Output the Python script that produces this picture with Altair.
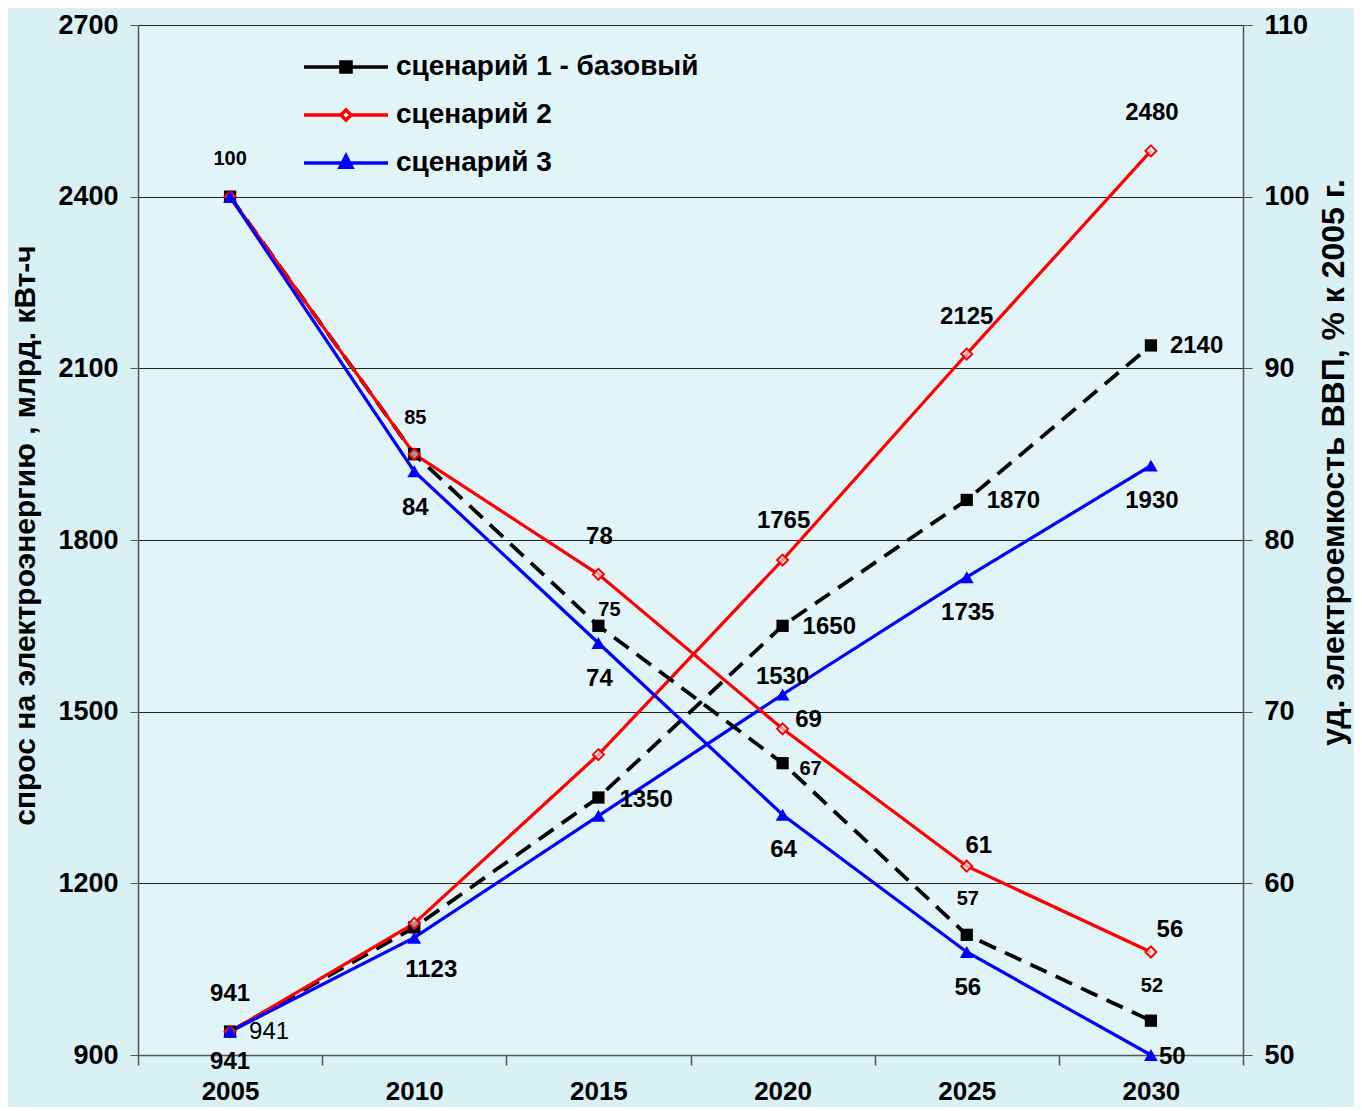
import altair as alt
import pandas as pd

# ---------------- data ----------------
years = [2005, 2010, 2015, 2020, 2025, 2030]
scenario_names = ["сценарий 1 - базовый", "сценарий 2", "сценарий 3"]

demand_s1 = [941, 1123, 1350, 1650, 1870, 2140]
demand_s2 = [941, 1130, 1425, 1765, 2125, 2480]
demand_s3 = [941, 1105, 1318, 1530, 1735, 1930]

intensity_s1 = [100, 85, 75, 67, 57, 52]
intensity_s2 = [100, 85, 78, 69, 61, 56]
intensity_s3 = [100, 84, 74, 64, 56, 50]

left_ticks = [900, 1200, 1500, 1800, 2100, 2400, 2700]
right_ticks = [50, 60, 70, 80, 90, 100, 110]
x_ticks = [2002.5, 2007.5, 2012.5, 2017.5, 2022.5, 2027.5, 2032.5]

left_title = "спрос на электроэнергию , млрд. кВт-ч"
right_title = "уд. электроемкость ВВП, % к 2005 г."

rows = []
for k, (dem, inten) in enumerate(
    [(demand_s1, intensity_s1), (demand_s2, intensity_s2), (demand_s3, intensity_s3)], start=1
):
    for yr, d, i in zip(years, dem, inten):
        rows.append({"year": yr, "sc": k, "scenario": scenario_names[k - 1],
                     "demand": d, "intensity": i})
df = pd.DataFrame(rows)

# ---------------- styles ----------------
FONT = "Liberation Sans"
BG = "#e1f4f7"
STYLE = {
    1: dict(color="#000000", dash=[18, 10], shape="square", filled=True, size=150, sw=3.8),
    2: dict(color="#ff0000", dash=None, shape="diamond", filled=False, size=120, sw=3.2),
    3: dict(color="#0000ff", dash=None, shape="triangle-up", filled=True, size=190, sw=3.2),
}

W, H = 1105, 1030

x_enc = alt.X(
    "year:Q",
    scale=alt.Scale(domain=[2002.5, 2032.5], nice=False, zero=False),
    axis=alt.Axis(
        values=x_ticks, title=None, grid=False,
        labelExpr="datum.value < 2030 ? format(datum.value + 2.5, 'd') : ''",
        labelOffset=W / 12, labelFlush=False, labelOverlap=False,
        labelFont=FONT, labelFontSize=26, labelFontWeight="bold", labelColor="#000",
        labelPadding=13, tickSize=10, tickColor="#555", domainColor="#555", tickWidth=1.5, domainWidth=1.5,
    ),
)

yl_enc = lambda field: alt.Y(
    f"{field}:Q",
    scale=alt.Scale(domain=[900, 2700], nice=False, zero=False),
    axis=alt.Axis(
        values=left_ticks, format="d", title=left_title, grid=True,
        gridColor="#000", gridWidth=1, gridOpacity=0.85,
        labelFont=FONT, labelFontSize=27, labelFontWeight="bold", labelColor="#000",
        labelPadding=12, tickSize=8, tickColor="#555", domainColor="#555", domainWidth=1.5,
        titleFont=FONT, titleFontSize=30, titleFontWeight="bold", titleColor="#000",
        titlePadding=17, titleY=510,
    ),
)

yr_enc = lambda field: alt.Y(
    f"{field}:Q",
    scale=alt.Scale(domain=[50, 110], nice=False, zero=False),
    axis=alt.Axis(
        values=right_ticks, format="d", title=right_title, orient="right", grid=False,
        labelFont=FONT, labelFontSize=27, labelFontWeight="bold", labelColor="#000",
        labelPadding=12, tickSize=9, tickColor="#555", domainColor="#555", domainWidth=1.5,
        titleFont=FONT, titleFontSize=32, titleFontWeight="bold", titleColor="#000",
        titlePadding=41, titleAngle=270, titleY=437,
    ),
)

base = alt.Chart(df)


def series_layers(field, yenc):
    layers = []
    for k, st in STYLE.items():
        kw = dict(color=st["color"], strokeWidth=st["sw"])
        if st["dash"]:
            kw["strokeDash"] = st["dash"]
        layers.append(base.transform_filter(alt.datum.sc == k).mark_line(**kw).encode(x=x_enc, y=yenc(field)))
    for k, st in STYLE.items():
        pkw = dict(shape=st["shape"], size=st["size"], opacity=1)
        if st["filled"]:
            pkw.update(filled=True, color=st["color"])
        else:
            pkw.update(filled=False, stroke=st["color"], fill="#ffffff", fillOpacity=0.6, strokeWidth=2)
        layers.append(base.transform_filter(alt.datum.sc == k).mark_point(**pkw).encode(x=x_enc, y=yenc(field)))
    return layers


# label placements: (scenario, year, dx, dy, align, size, weight)
demand_labels = [
    (2, 2005, 0, -38, "center", 24, "bold"),
    (1, 2005, 19, 0, "left", 24, "normal"),
    (3, 2005, 0, 30, "center", 24, "bold"),
    (1, 2010, 17, 43, "center", 24, "bold"),
    (1, 2015, 21, 2, "left", 24, "bold"),
    (1, 2020, 20, 1, "left", 24, "bold"),
    (1, 2025, 20, 1, "left", 24, "bold"),
    (1, 2030, 19, 1, "left", 24, "bold"),
    (2, 2020, 1, -39, "center", 24, "bold"),
    (2, 2025, 0, -37, "center", 24, "bold"),
    (2, 2030, 1, -38, "center", 24, "bold"),
    (3, 2020, 0, -18, "center", 24, "bold"),
    (3, 2025, 1, 36, "center", 24, "bold"),
    (3, 2030, 1, 35, "center", 24, "bold"),
]
intensity_labels = [
    (1, 2005, 0, -38, "center", 20, "bold"),
    (2, 2010, 1, -36, "center", 20, "bold"),
    (3, 2010, 1, 37, "center", 24, "bold"),
    (1, 2015, 11, -16, "center", 20, "bold"),
    (2, 2015, 1, -37, "center", 24, "bold"),
    (3, 2015, 1, 36, "center", 24, "bold"),
    (2, 2020, 26, -9, "center", 24, "bold"),
    (1, 2020, 28, 6, "center", 20, "bold"),
    (3, 2020, 1, 35, "center", 24, "bold"),
    (2, 2025, 12, -20, "center", 24, "bold"),
    (1, 2025, 1, -36, "center", 20, "bold"),
    (3, 2025, 1, 36, "center", 24, "bold"),
    (2, 2030, 19, -22, "center", 24, "bold"),
    (1, 2030, 1, -35, "center", 20, "bold"),
    (3, 2030, 8, 2, "left", 24, "bold"),
]


def label_layers(field, yenc, specs):
    out = []
    for k, yr, dx, dy, align, size, weight in specs:
        out.append(
            base.transform_filter((alt.datum.sc == k) & (alt.datum.year == yr))
            .mark_text(dx=dx, dy=dy, align=align, baseline="middle", font=FONT,
                       fontSize=size, fontWeight=weight, color="#000")
            .encode(x=x_enc, y=yenc(field), text=alt.Text(f"{field}:Q", format="d"))
        )
    return out


# legend (native Vega legend with custom line+marker symbols)
leg_paths = [
    "M-1,0H-0.13M0.13,0H1M-0.12,-0.12H0.12V0.12H-0.12Z",
    "M-1,0H-0.12M0.12,0H1M0,-0.12L0.12,0L0,0.12L-0.12,0Z",
    "M-1,0H1M0,-0.17L0.14,0.1H-0.14Z",
]
legend_def = alt.Legend(
    title=None, orient="none", legendX=164, legendY=18, padding=0,
    labelFont=FONT, labelFontSize=28, labelFontWeight="bold", labelColor="#000",
    labelLimit=0,
    symbolSize=7056, symbolStrokeWidth=3.5, clipHeight=48, rowPadding=0, labelOffset=6,
    symbolOpacity=1,
)
legend_layer = (
    base.transform_filter("false")
    .mark_point(filled=True, opacity=1)
    .encode(
        x=x_enc, y=yl_enc("demand"),
        shape=alt.Shape("scenario:N", scale=alt.Scale(domain=scenario_names, range=leg_paths), legend=legend_def),
        stroke=alt.Stroke("scenario:N", scale=alt.Scale(domain=scenario_names, range=["#000000", "#ff0000", "#0000ff"]), legend=legend_def),
        fill=alt.Fill("scenario:N", scale=alt.Scale(domain=scenario_names, range=["#000000", "#ffffff", "#0000ff"]), legend=legend_def),
    )
)

left = alt.layer(*series_layers("demand", yl_enc), *label_layers("demand", yl_enc, demand_labels), legend_layer)
right = alt.layer(*series_layers("intensity", yr_enc), *label_layers("intensity", yr_enc, intensity_labels))

chart = (
    alt.layer(left, right)
    .resolve_scale(y="independent")
    .properties(
        width=W, height=H, background="#d9f0f4",
        autosize=alt.AutoSizeParams(type="none"),
        padding={"left": 130, "top": 17, "right": 111, "bottom": 52},
    )
    .configure_view(stroke=None, fill=BG)
)

chart.save("out.html", embed_options={"renderer": "svg", "actions": False})
